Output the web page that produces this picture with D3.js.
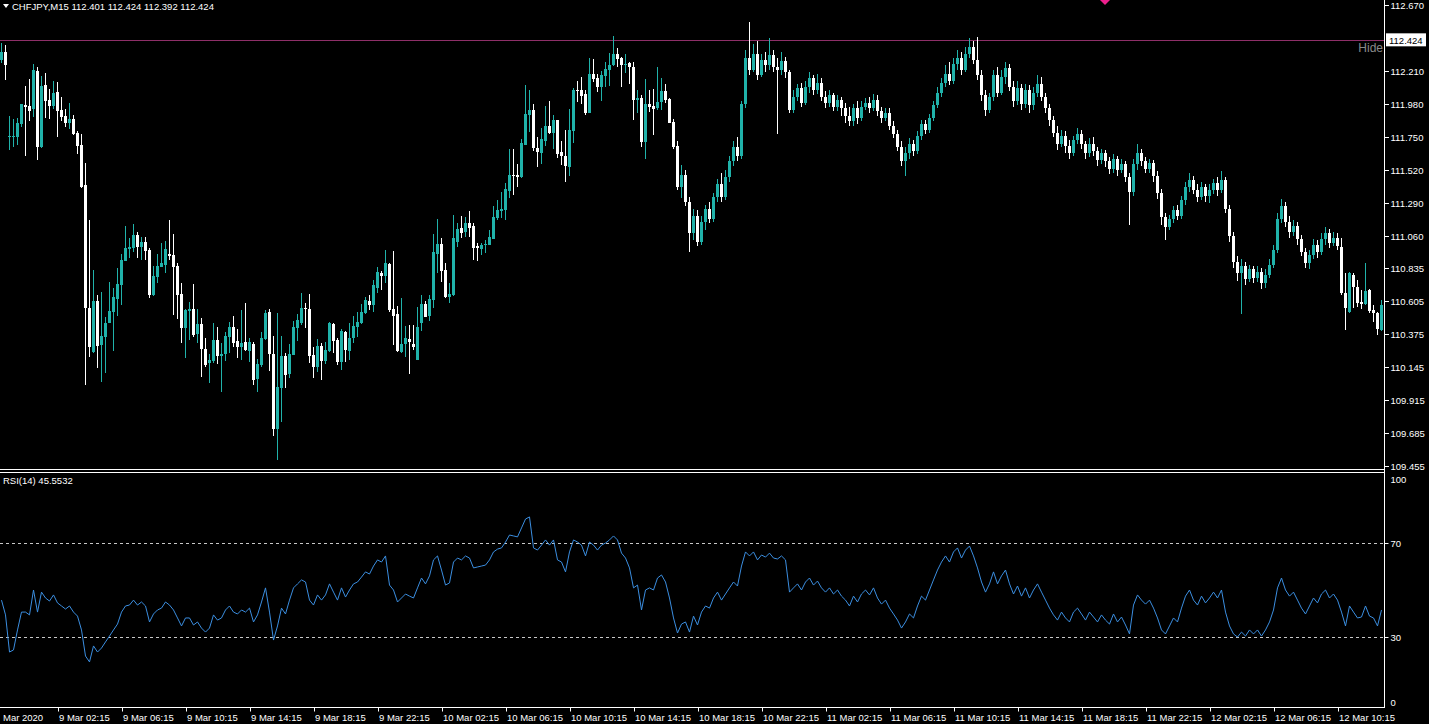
<!DOCTYPE html>
<html><head><meta charset="utf-8">
<script src="https://cdn.jsdelivr.net/npm/d3@7"></script>
<style>
body{margin:0;background:#000;overflow:hidden}
svg{display:block}
text{font-family:"Liberation Sans",Arial,sans-serif;font-size:9.5px;fill:#fff}
</style>
</head><body><svg id="c" width="1429" height="724"></svg>
<script>
const symbolTitle = "CHFJPY,M15  112.401 112.424 112.392 112.424";
const rsiTitle = "RSI(14) 45.5532";
const open = [112.287,112.343,111.748,111.748,111.753,111.841,111.973,111.966,111.943,112.213,
111.678,112.113,112.008,111.966,112.064,111.939,111.897,111.850,111.876,111.781,
111.695,111.416,110.556,110.254,110.607,110.301,110.359,110.452,110.533,110.619,
110.719,110.889,110.967,110.979,111.067,110.986,111.019,110.963,110.649,110.777,
110.847,110.861,110.935,110.928,110.851,110.656,110.422,110.540,110.549,110.377,
110.447,110.271,110.173,110.192,110.336,110.227,110.238,110.359,110.429,110.329,
110.285,110.319,110.261,110.308,110.064,110.161,110.340,110.531,110.238,109.715,
109.999,110.224,110.099,110.231,110.417,110.452,110.559,110.552,110.231,110.145,
110.294,110.189,110.261,110.447,110.336,110.185,110.391,110.261,110.347,110.429,
110.452,110.522,110.610,110.580,110.696,110.805,110.782,110.865,110.549,110.517,
110.254,110.308,110.343,110.308,110.196,110.452,110.587,110.503,110.614,110.935,
111.005,110.823,110.638,110.649,111.021,111.114,111.091,111.153,111.130,110.993,
110.970,110.998,110.998,111.040,111.184,111.237,111.242,111.376,111.486,111.486,
111.474,111.695,111.904,111.939,111.676,111.641,111.725,111.827,111.781,111.869,
111.646,111.618,111.544,111.794,112.076,112.078,112.050,111.915,112.189,112.159,
112.101,112.175,112.217,112.252,112.329,112.303,112.254,112.264,112.240,112.008,
112.020,111.718,111.980,111.966,111.955,111.992,112.071,112.015,111.855,111.688,
111.400,
111.486,111.300,111.080,111.200,111.020,111.160,111.250,111.180,111.330,111.420,
111.330,111.470,111.580,111.680,111.620,111.980,112.300,112.220,112.330,112.180,
112.290,112.250,112.320,112.240,112.220,112.280,112.200,111.940,112.030,112.090,
111.990,112.100,112.160,112.080,112.130,112.030,111.990,112.040,111.960,112.010,
111.950,111.900,111.860,111.950,111.880,111.960,111.990,111.950,112.010,111.930,
111.880,111.920,111.830,111.770,111.680,111.580,111.640,111.700,111.650,111.760,
111.840,111.800,111.880,111.970,112.060,112.130,112.190,112.140,112.260,112.300,
112.220,112.330,112.380,112.290,112.180,112.040,111.940,112.030,112.180,112.060,
112.170,112.230,112.100,112.000,112.090,111.980,112.080,111.970,112.060,112.120,
112.030,111.950,111.870,111.780,111.700,111.760,111.690,111.640,111.730,111.770,
111.700,111.640,111.700,111.650,111.590,111.640,111.580,111.530,111.600,111.520,
111.560,111.470,111.370,111.560,111.640,111.580,111.530,111.570,111.480,111.360,
111.190,111.120,111.180,111.240,111.200,111.310,111.400,111.450,111.380,111.330,
111.400,111.340,111.380,111.430,111.380,111.450,111.250,111.060,110.880,110.800,
110.850,110.760,110.830,110.770,110.810,110.730,110.790,110.860,110.960,111.180,
111.270,111.160,111.090,111.130,111.040,110.950,110.870,110.930,111.000,110.950,
111.040,111.080,111.010,111.050,110.986,110.661,110.533,110.788,110.707,110.603,
110.586,110.684,110.545,110.526,110.405];
const high = [112.403,112.391,111.897,111.876,111.880,111.980,112.106,112.155,112.259,112.236,
112.175,112.194,112.083,112.143,112.134,112.027,111.945,111.985,111.904,111.792,
111.769,111.567,111.172,110.823,110.649,110.673,110.494,110.738,110.696,110.835,
110.935,111.130,111.044,111.142,111.091,111.056,111.056,110.975,110.851,110.935,
111.009,111.028,111.172,111.074,110.870,110.731,110.549,110.598,110.726,110.549,
110.487,110.347,110.238,110.452,110.424,110.317,110.394,110.463,110.503,110.410,
110.545,110.591,110.347,110.324,110.201,110.394,110.545,110.549,110.364,110.522,
110.364,110.247,110.306,110.470,110.517,110.663,110.591,110.654,110.289,110.340,
110.312,110.324,110.463,110.457,110.347,110.412,110.398,110.452,110.503,110.533,
110.587,110.638,110.649,110.754,110.842,110.819,110.963,110.870,110.956,110.573,
110.626,110.433,110.440,110.440,110.563,110.649,110.610,110.649,111.074,111.177,
111.044,110.870,110.731,111.207,111.149,111.200,111.191,111.235,111.153,111.009,
111.014,111.033,111.102,111.270,111.311,111.365,111.427,111.664,111.667,111.562,
111.736,112.113,112.078,111.980,111.748,111.815,111.966,112.001,111.904,111.869,
111.722,111.799,111.945,112.090,112.141,112.166,112.078,112.299,112.294,112.187,
112.213,112.271,112.338,112.454,112.368,112.310,112.329,112.275,112.271,112.078,
112.043,112.152,112.078,112.083,112.236,112.159,112.120,112.020,111.873,111.725,
111.555,
111.520,111.330,111.250,111.240,111.200,111.280,111.300,111.360,111.460,111.500,
111.520,111.620,111.720,111.750,112.000,112.360,112.550,112.400,112.420,112.330,
112.340,112.440,112.360,112.300,112.340,112.310,112.220,112.080,112.120,112.130,
112.140,112.200,112.180,112.190,112.160,112.070,112.080,112.060,112.040,112.030,
111.990,111.960,111.980,112.000,112.000,112.020,112.030,112.050,112.040,111.960,
111.950,111.950,111.860,111.800,111.720,111.680,111.740,111.730,111.790,111.870,
111.870,111.910,112.000,112.100,112.160,112.250,112.270,112.300,112.360,112.340,
112.380,112.440,112.420,112.450,112.220,112.080,112.060,112.220,112.240,112.220,
112.270,112.260,112.140,112.140,112.120,112.120,112.110,112.100,112.180,112.170,
112.060,111.980,111.900,111.830,111.800,111.790,111.730,111.760,111.810,111.800,
111.720,111.740,111.750,111.680,111.670,111.660,111.610,111.630,111.620,111.600,
111.580,111.500,111.600,111.700,111.670,111.610,111.600,111.590,111.510,111.390,
111.220,111.210,111.270,111.280,111.340,111.440,111.500,111.480,111.420,111.440,
111.420,111.420,111.460,111.470,111.510,111.470,111.280,111.090,110.920,110.900,
110.880,110.860,110.850,110.850,110.840,110.830,110.900,111.000,111.220,111.320,
111.300,111.200,111.170,111.160,111.070,110.980,110.960,111.040,111.030,111.080,
111.120,111.110,111.090,111.080,111.044,110.800,110.812,110.800,110.754,110.684,
110.870,110.689,110.579,110.533,110.614];
const low = [112.264,112.148,111.660,111.678,111.695,111.822,111.618,111.864,111.887,111.590,
111.671,111.880,111.876,111.945,111.753,111.864,111.818,111.806,111.764,111.632,
111.395,110.022,110.220,110.247,110.138,110.045,110.103,110.452,110.261,110.505,
110.580,110.889,110.905,110.951,110.907,110.893,110.893,110.626,110.645,110.731,
110.847,110.805,110.893,110.510,110.484,110.317,110.213,110.336,110.354,110.312,
110.080,110.150,110.034,110.178,110.166,109.976,110.192,110.243,110.289,110.213,
110.196,110.261,110.180,110.022,109.976,110.150,110.336,110.122,109.669,109.499,
109.767,110.004,110.069,110.231,110.331,110.440,110.422,110.178,110.073,110.115,
110.057,110.168,110.254,110.247,110.161,110.127,110.185,110.196,110.312,110.359,
110.447,110.517,110.545,110.533,110.661,110.684,110.735,110.533,110.301,110.250,
110.247,110.220,110.099,110.266,110.196,110.401,110.498,110.470,110.556,110.805,
110.740,110.626,110.596,110.645,110.986,111.049,111.051,111.051,110.893,110.889,
110.928,110.944,110.998,111.037,111.172,111.184,111.172,111.323,111.346,111.404,
111.467,111.695,111.788,111.655,111.544,111.562,111.688,111.771,111.667,111.602,
111.555,111.439,111.481,111.711,111.997,111.980,111.904,111.915,112.131,112.066,
112.004,112.101,112.106,112.245,112.236,112.101,112.199,112.120,111.869,111.915,
111.678,111.597,111.922,111.764,111.939,111.939,111.985,111.850,111.667,111.381,
111.323,
111.270,110.950,111.030,110.990,111.000,111.100,111.150,111.160,111.300,111.300,
111.310,111.440,111.550,111.580,111.600,111.950,112.180,112.200,112.150,112.170,
112.200,112.220,112.200,111.770,112.180,112.160,111.920,111.920,112.000,111.960,
111.970,112.060,112.040,112.050,112.000,111.950,111.960,111.930,111.930,111.900,
111.850,111.830,111.830,111.840,111.860,111.940,111.920,111.930,111.900,111.850,
111.860,111.800,111.740,111.650,111.550,111.480,111.600,111.620,111.630,111.730,
111.770,111.780,111.860,111.950,112.030,112.100,112.110,112.120,112.220,112.180,
112.200,112.300,112.260,112.150,112.000,111.900,111.920,112.000,112.030,112.040,
112.120,112.070,111.960,111.970,111.940,111.950,111.920,111.940,112.030,112.000,
111.920,111.830,111.750,111.660,111.680,111.640,111.600,111.620,111.700,111.670,
111.600,111.610,111.620,111.550,111.560,111.540,111.490,111.500,111.480,111.500,
111.440,111.140,111.340,111.520,111.550,111.500,111.500,111.440,111.320,111.140,
111.030,111.100,111.150,111.170,111.180,111.280,111.370,111.350,111.300,111.310,
111.300,111.290,111.350,111.340,111.360,111.220,111.020,110.840,110.750,110.520,
110.720,110.740,110.730,110.740,110.690,110.700,110.770,110.840,110.940,111.150,
111.120,111.050,111.060,111.000,110.920,110.840,110.830,110.900,110.910,110.930,
111.000,110.980,110.990,110.960,110.649,110.405,110.521,110.556,110.563,110.549,
110.579,110.521,110.463,110.370,110.400];
const close = [112.343,112.254,111.757,111.757,111.846,111.980,111.962,111.934,112.217,111.683,
112.106,112.004,111.966,112.059,111.934,111.892,111.850,111.876,111.771,111.688,
111.404,110.556,110.289,110.607,110.294,110.364,110.452,110.538,110.638,110.724,
110.893,110.975,110.984,111.067,110.984,111.019,110.958,110.649,110.782,110.851,
110.875,110.970,110.921,110.847,110.649,110.422,110.545,110.549,110.371,110.447,
110.271,110.161,110.196,110.336,110.227,110.238,110.364,110.429,110.317,110.289,
110.317,110.266,110.319,110.057,110.169,110.347,110.526,110.238,109.715,110.006,
110.224,110.092,110.238,110.424,110.475,110.556,110.549,110.224,110.150,110.294,
110.189,110.266,110.452,110.331,110.185,110.398,110.266,110.352,110.436,110.461,
110.531,110.615,110.580,110.719,110.812,110.784,110.872,110.545,110.503,110.259,
110.308,110.350,110.324,110.289,110.426,110.587,110.498,110.619,110.951,111.005,
110.819,110.638,110.656,111.044,111.107,111.084,111.149,111.119,110.975,110.979,
110.998,111.007,111.051,111.191,111.242,111.249,111.386,111.486,111.479,111.474,
111.706,111.908,111.939,111.671,111.648,111.736,111.827,111.776,111.869,111.632,
111.618,111.548,111.799,112.078,112.071,112.036,111.915,112.189,112.155,112.096,
112.182,112.222,112.252,112.329,112.294,112.252,112.259,112.240,112.008,112.020,
111.718,111.980,111.962,111.948,111.997,112.071,112.008,111.850,111.678,111.404,
111.486,
111.300,111.080,111.200,111.020,111.160,111.250,111.180,111.330,111.420,111.330,
111.470,111.580,111.680,111.620,111.980,112.300,112.220,112.330,112.180,112.290,
112.250,112.320,112.240,112.220,112.280,112.200,111.940,112.030,112.090,111.990,
112.100,112.160,112.080,112.130,112.030,111.990,112.040,111.960,112.010,111.950,
111.900,111.860,111.950,111.880,111.960,111.990,111.950,112.010,111.930,111.880,
111.920,111.830,111.770,111.680,111.580,111.640,111.700,111.650,111.760,111.840,
111.800,111.880,111.970,112.060,112.130,112.190,112.140,112.260,112.300,112.220,
112.330,112.380,112.290,112.180,112.040,111.940,112.030,112.180,112.060,112.170,
112.230,112.100,112.000,112.090,111.980,112.080,111.970,112.060,112.120,112.030,
111.950,111.870,111.780,111.700,111.760,111.690,111.640,111.730,111.770,111.700,
111.640,111.700,111.650,111.590,111.640,111.580,111.530,111.600,111.520,111.560,
111.470,111.370,111.560,111.640,111.580,111.530,111.570,111.480,111.360,111.190,
111.120,111.180,111.240,111.200,111.310,111.400,111.450,111.380,111.330,111.400,
111.340,111.380,111.430,111.380,111.450,111.250,111.060,110.880,110.800,110.850,
110.760,110.830,110.770,110.810,110.730,110.790,110.860,110.960,111.180,111.270,
111.160,111.090,111.130,111.040,110.950,110.870,110.930,111.000,110.950,111.040,
111.080,111.010,111.050,110.990,110.661,110.556,110.800,110.702,110.596,110.586,
110.677,110.538,110.521,110.410,110.579];
const rsi = [45.7,39.4,23.6,24.5,33.0,40.6,40.6,39.4,50.0,40.6,
49.1,46.6,45.3,47.9,44.5,43.2,41.9,43.2,40.6,38.9,
33.0,21.9,19.4,26.2,23.6,25.3,27.9,30.4,33.0,35.5,
40.6,43.2,43.6,45.7,43.6,44.9,43.2,36.4,39.8,41.5,
42.3,44.9,43.6,41.5,38.1,34.7,38.1,38.1,35.1,36.4,
33.8,32.1,33.8,39.4,37.2,38.1,41.5,43.2,40.6,39.8,
41.5,40.6,42.3,36.4,39.4,44.9,50.9,40.6,28.7,34.7,
42.3,39.8,45.7,50.9,52.6,54.3,53.4,45.7,43.6,47.9,
45.7,47.9,52.6,49.1,45.7,50.9,47.0,50.0,52.6,53.4,
55.5,57.7,56.8,60.2,62.8,61.9,64.5,52.1,50.0,44.9,
46.6,48.3,47.4,46.6,50.9,55.1,52.6,56.0,62.8,64.5,
58.5,52.1,53.0,61.9,63.6,62.8,64.5,63.6,59.4,59.8,
60.2,60.6,62.8,66.2,67.4,67.9,70.4,73.4,73.0,72.6,
76.4,80.2,81.1,67.9,67.0,69.1,71.3,69.1,71.3,62.8,
61.9,57.7,66.2,71.3,70.4,69.1,64.5,70.4,69.1,67.0,
69.1,70.0,71.3,73.0,71.3,65.7,63.6,59.4,50.9,52.1,
41.5,50.0,50.9,50.0,55.1,56.4,53.4,46.6,38.1,31.7,
35.5,
36.4,32.1,38.9,35.1,40.6,43.2,42.3,46.6,49.1,45.7,
48.3,50.9,53.4,51.7,60.2,66.2,64.5,66.2,62.8,64.9,
64.0,65.7,63.6,63.2,64.5,62.8,49.1,50.9,52.6,50.0,
53.4,55.1,52.1,53.8,50.9,49.1,50.9,48.3,50.0,47.4,
45.7,43.2,47.4,44.9,48.3,50.0,47.9,50.9,46.6,44.0,
45.7,42.3,39.8,37.2,33.8,36.4,39.8,38.1,43.2,47.4,
45.7,50.0,54.3,58.5,61.9,64.5,61.9,66.2,67.9,63.6,
67.0,68.7,64.5,59.4,53.4,49.1,52.6,57.7,52.6,56.0,
58.5,52.6,48.3,51.7,47.4,50.9,46.6,50.0,52.6,49.1,
45.7,42.3,39.4,37.2,40.6,38.1,36.4,40.6,42.3,39.8,
37.2,40.6,38.5,36.4,39.4,37.2,35.5,39.8,36.4,38.5,
35.1,31.3,43.6,47.9,45.7,44.0,45.7,42.3,38.1,33.0,
31.3,34.7,38.1,36.4,42.3,47.4,50.0,45.7,43.6,47.4,
44.5,46.6,49.1,46.6,50.0,40.6,34.7,31.3,30.0,32.1,
30.4,33.0,31.3,33.0,30.4,33.0,36.4,41.5,50.9,55.1,
50.0,47.4,49.1,45.7,42.3,39.8,43.2,46.6,44.5,48.3,
50.0,46.6,48.3,45.7,40.6,34.7,43.2,40.6,38.1,38.5,
43.2,38.9,38.1,34.7,41.5];
const priceTicks = [112.670,112.210,111.980,111.750,111.520,111.290,111.060,110.835,110.605,110.375,110.145,109.915,109.685,109.455];
const currentPrice = 112.424;
const rsiTicks = [100,70,30,0];
const rsiLevels = [70,30];
const timeIdx = [14,30,46,62,78,94,110,126,142,158,174,190,206,222,238,254,270,286,302,318,334];
const timeText = ["9 Mar 02:15","9 Mar 06:15","9 Mar 10:15","9 Mar 14:15","9 Mar 18:15","9 Mar 22:15",
"10 Mar 02:15","10 Mar 06:15","10 Mar 10:15","10 Mar 14:15","10 Mar 18:15","10 Mar 22:15",
"11 Mar 02:15","11 Mar 06:15","11 Mar 10:15","11 Mar 14:15","11 Mar 18:15","11 Mar 22:15",
"12 Mar 02:15","12 Mar 06:15","12 Mar 10:15"];
const firstDateLabel = "Mar 2020";

const svg = d3.select("#c");
const W = 1429, AX = 1384.5;
const x = d3.scaleLinear().domain([0,345]).range([1.5,1381.5]);
const y = d3.scaleLinear().domain([109.444,112.705]).range([468,0]);
const yr = d3.scaleLinear().domain([0,100]).range([707.5,472.5]);
const BULL = "#20b2aa", BEAR = "#ffffff";

svg.append("rect").attr("width",W).attr("height",724).attr("fill","#000");

// price line
svg.append("line").attr("x1",0).attr("x2",AX).attr("y1",Math.round(y(currentPrice))+0.5).attr("y2",Math.round(y(currentPrice))+0.5)
  .attr("stroke","#8e2f68").attr("stroke-width",1);

// candles
const g = svg.append("g").attr("shape-rendering","crispEdges");
const idx = d3.range(close.length);
g.selectAll("line.w").data(idx).join("line").attr("class","w")
  .attr("x1",i=>x(i)).attr("x2",i=>x(i))
  .attr("y1",i=>y(high[i])).attr("y2",i=>y(low[i]))
  .attr("stroke",i=>close[i]>=open[i]?BULL:BEAR).attr("stroke-width",1);
g.selectAll("rect.b").data(idx).join("rect").attr("class","b")
  .attr("x",i=>x(i)-1.5).attr("width",3)
  .attr("y",i=>y(Math.max(open[i],close[i])))
  .attr("height",i=>Math.max(1,Math.abs(y(open[i])-y(close[i]))))
  .attr("fill",i=>close[i]>=open[i]?BULL:BEAR);

// pink marker
svg.append("path").attr("d","M1100,0L1110,0L1105,5Z").attr("fill","#ee1f8c");

// separator + frame lines
const fr = svg.append("g").attr("stroke","#fff").attr("stroke-width",1).attr("shape-rendering","crispEdges");
fr.append("line").attr("x1",0).attr("x2",AX).attr("y1",469.5).attr("y2",469.5);
fr.append("line").attr("x1",0).attr("x2",AX).attr("y1",472.5).attr("y2",472.5);
fr.append("line").attr("x1",0).attr("x2",AX).attr("y1",707.5).attr("y2",707.5);

// price axis
const pa = svg.append("g").attr("transform",`translate(${AX},0)`)
  .call(d3.axisRight(y).tickValues(priceTicks).tickFormat(d3.format(".3f")).tickSize(4).tickSizeOuter(0).tickPadding(2));
pa.select(".domain").remove();
pa.selectAll("line").attr("stroke","#fff").attr("shape-rendering","crispEdges");
pa.selectAll("text").attr("fill","#fff").style("font-family","Liberation Sans, Arial").style("font-size","9.5px");
svg.append("line").attr("x1",AX).attr("x2",AX).attr("y1",0).attr("y2",708).attr("stroke","#fff").attr("shape-rendering","crispEdges");

// current price box
const cy = y(currentPrice);
svg.append("rect").attr("x",1386).attr("y",cy-7).attr("width",40).attr("height",13).attr("fill","#fff");
svg.append("text").attr("x",1389).attr("y",cy+3.5).style("fill","#000").text(d3.format(".3f")(currentPrice));
svg.append("text").attr("x",1383).attr("y",cy+12).attr("text-anchor","end").style("fill","#8a8a8a").style("font-size","12px").text("Hide");

// RSI levels
svg.append("g").selectAll("line").data(rsiLevels).join("line")
  .attr("x1",0).attr("x2",AX).attr("y1",d=>Math.round(yr(d))+0.5).attr("y2",d=>Math.round(yr(d))+0.5)
  .attr("stroke","#c8c8c8").attr("stroke-dasharray","3,3").attr("shape-rendering","crispEdges");

// RSI line
svg.append("path").datum(rsi).attr("fill","none").attr("stroke","#3b8ee0").attr("stroke-width",1)
  .attr("d", d3.line().x((d,i)=>x(i)).y(d=>yr(d)));

// RSI axis
const ra = svg.append("g").attr("transform",`translate(${AX},0)`)
  .call(d3.axisRight(yr).tickValues(rsiTicks).tickFormat(d3.format("d")).tickSize(4).tickSizeOuter(0).tickPadding(2));
ra.select(".domain").remove();
ra.selectAll("line").attr("stroke","#fff");
ra.selectAll("text").attr("fill","#fff").style("font-size","9.5px")
  .attr("dy",d=>d===100?"1.1em":d===0?"-0.25em":"0.32em");
ra.selectAll(".tick").filter(d=>d===100||d===0).select("line").remove();

// time axis
const ta = svg.append("g").attr("transform","translate(0,707.5)")
  .call(d3.axisBottom(x).tickValues(timeIdx).tickFormat((d,i)=>timeText[i]).tickSize(4).tickSizeOuter(0).tickPadding(3));
ta.select(".domain").remove();
ta.selectAll("line").attr("stroke","#fff").attr("transform","translate(0.5,0)");
ta.selectAll("text").attr("text-anchor","start").attr("dx","1").attr("fill","#fff").style("font-size","9.5px");
svg.append("text").attr("x",3).attr("y",721).text(firstDateLabel);

// titles
svg.append("path").attr("d","M3,4L9,4L6,8Z").attr("fill","#fff");
svg.append("text").attr("x",12).attr("y",10).text(symbolTitle);
svg.append("text").attr("x",3).attr("y",484).text(rsiTitle);
</script>
</body></html>
